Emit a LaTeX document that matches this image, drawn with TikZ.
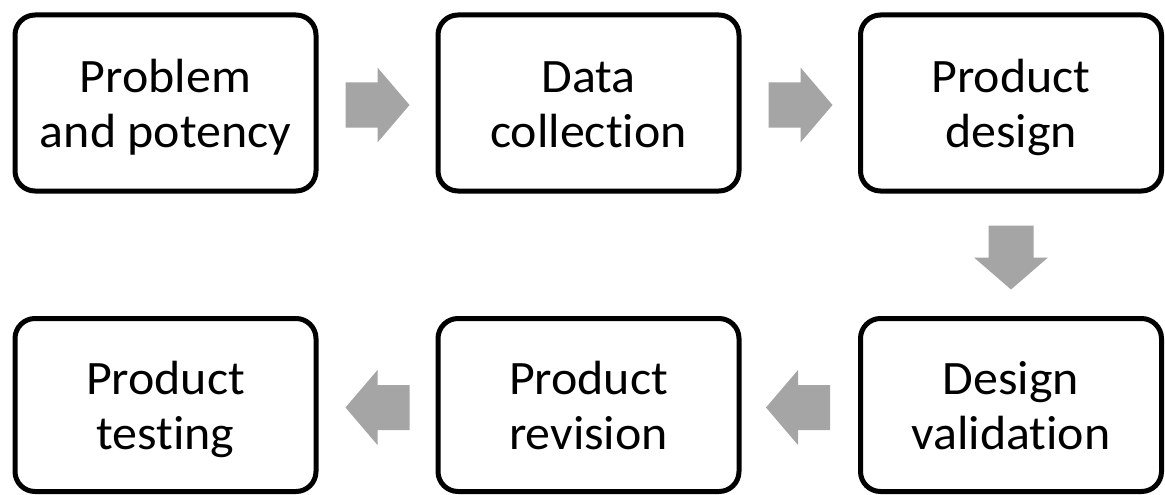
\documentclass[tikz,border=0pt]{standalone}
\usepackage{fontspec}
\setmainfont{Carlito}[Ligatures={NoCommon,NoContextual}, FakeStretch=1.04]
\usetikzlibrary{calc}
\definecolor{arrowgray}{HTML}{A5A5A5}
\newcommand\ls{\rule[-9pt]{0pt}{51pt}}
\tikzset{
  stepbox/.style={draw=black, line width=5pt, rounded corners=20pt, fill=white,
    minimum width=301pt, inner sep=0pt, align=center,
    font=\fontsize{48}{55}\selectfont},
  toprow/.style={minimum height=176pt},
  botrow/.style={minimum height=173pt},
  blockarrow/.style={fill=arrowgray, draw=none}
}
\begin{document}
\begin{tikzpicture}[x=1pt,y=-1pt]
\useasboundingbox (0,0) rectangle (1165,495);
\node[stepbox,toprow] (b1) at (165.5,103) {\ls Problem\\\ls and potency};
\node[stepbox,toprow] (b2) at (588.5,103) {\ls Data\\\ls collect\kern0pt ion};
\node[stepbox,toprow] (b3) at (1011,103) {\ls Product\\\ls design};
\node[stepbox,botrow] (b6) at (1011,405) {\ls Design\\\ls validat\kern0pt ion};
\node[stepbox,botrow] (b5) at (588.5,405) {\ls Product\\\ls revision};
\node[stepbox,botrow] (b4) at (165.5,405) {\ls Product\\\ls test\kern0pt ing};
% block arrows anchored on the boxes
\coordinate (a1) at ($(b1.east)+(27,2)$);
\coordinate (a2) at ($(b2.east)+(27,2)$);
\coordinate (a3) at ($(b3.south)+(0,32)$);
\coordinate (a4) at ($(b6.west)+(-28,2.5)$);
\coordinate (a5) at ($(b5.west)+(-26,2.5)$);
\fill[blockarrow, shift={(a1)}] (0,-22.5) -- (32,-22.5) -- (32,-37.5) -- (64,0) -- (32,37.5) -- (32,22.5) -- (0,22.5) -- cycle;
\fill[blockarrow, shift={(a2)}] (0,-22.5) -- (32,-22.5) -- (32,-37.5) -- (64,0) -- (32,37.5) -- (32,22.5) -- (0,22.5) -- cycle;
\fill[blockarrow, shift={(a3)}] (-22.5,0) -- (-22.5,32) -- (-37,32) -- (0,64) -- (37,32) -- (22.5,32) -- (22.5,0) -- cycle;
\fill[blockarrow, shift={(a4)}] (0,-22.5) -- (-32,-22.5) -- (-32,-37.5) -- (-64,0) -- (-32,37.5) -- (-32,22.5) -- (0,22.5) -- cycle;
\fill[blockarrow, shift={(a5)}] (0,-22.5) -- (-32,-22.5) -- (-32,-37.5) -- (-64,0) -- (-32,37.5) -- (-32,22.5) -- (0,22.5) -- cycle;
\end{tikzpicture}
\end{document}
